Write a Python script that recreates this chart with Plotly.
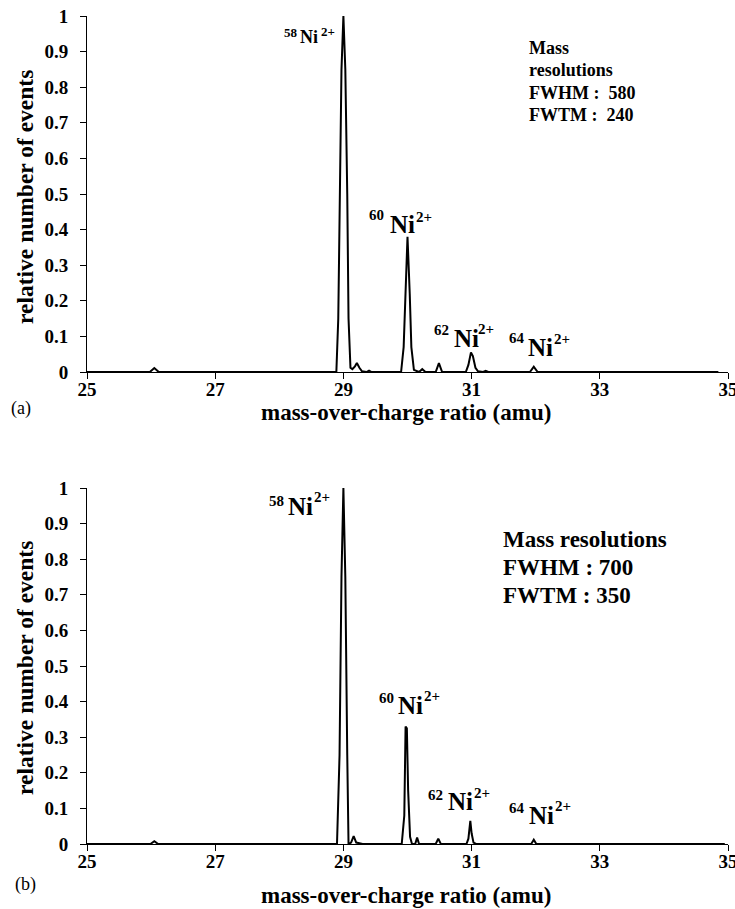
import plotly.graph_objects as go

# ---------------- data ----------------
# (a) spectrum
a_mz = [25.0, 25.6, 25.98, 26.05, 26.12, 26.6, 27.5, 28.5, 28.89, 28.92, 28.94, 28.97,
        29.0, 29.03, 29.06, 29.08, 29.11, 29.14, 29.18, 29.21, 29.25, 29.29, 29.36,
        29.4, 29.44, 29.9, 29.94, 29.965, 30.0, 30.035, 30.06, 30.1, 30.18, 30.23,
        30.28, 30.44, 30.49, 30.54, 30.91, 30.95, 30.99, 31.02, 31.06, 31.1, 31.18,
        31.22, 31.26, 31.91, 31.97, 32.03, 33.0, 34.0, 34.85]
a_int = [0.0, 0.0, 0.0, 0.011, 0.0, 0.0, 0.0, 0.0, 0.0, 0.15, 0.5, 0.85,
         1.0, 0.85, 0.5, 0.15, 0.012, 0.008, 0.016, 0.025, 0.012, 0.002, 0.0,
         0.004, 0.0, 0.0, 0.07, 0.22, 0.38, 0.22, 0.07, 0.006, 0.0, 0.008,
         0.0, 0.0, 0.025, 0.0, 0.0, 0.02, 0.055, 0.045, 0.012, 0.002, 0.0,
         0.003, 0.0, 0.0, 0.015, 0.0, 0.0, 0.0, 0.0]

# (b) spectrum
b_mz = [25.0, 25.6, 25.99, 26.05, 26.11, 26.5, 27.5, 28.5, 28.9, 28.94, 28.97, 29.0,
        29.03, 29.06, 29.08, 29.12, 29.16, 29.2, 29.3, 29.6, 29.91, 29.95, 29.97,
        29.99, 30.01, 30.04, 30.07, 30.12, 30.15, 30.18, 30.44, 30.48, 30.52, 30.92,
        30.95, 30.98, 31.0, 31.03, 31.07, 31.93, 31.97, 32.01, 33.0, 34.0, 34.95]
b_int = [0.0, 0.0, 0.0, 0.008, 0.0, 0.0, 0.0, 0.0, 0.0, 0.25, 0.75, 1.0,
         0.75, 0.25, 0.0, 0.004, 0.022, 0.004, 0.0, 0.0, 0.0, 0.08, 0.33,
         0.325, 0.15, 0.02, 0.0, 0.0, 0.018, 0.0, 0.0, 0.015, 0.0, 0.0,
         0.015, 0.065, 0.03, 0.004, 0.0, 0.0, 0.012, 0.0, 0.0, 0.0, 0.0]

x_ticks = [25, 27, 29, 31, 33, 35]
y_ticks = [0, 0.1, 0.2, 0.3, 0.4, 0.5, 0.6, 0.7, 0.8, 0.9, 1]
y_tick_text = ["0", "0.1", "0.2", "0.3", "0.4", "0.5", "0.6", "0.7", "0.8", "0.9", "1"]

res_a = ["Mass", "resolutions", "FWHM :  580", "FWTM :  240"]
res_b = ["Mass resolutions", "FWHM : 700", "FWTM : 350"]

# ---------------- layout helpers ----------------
W, H = 735, 909
FONT = "Liberation Serif"


def px(x):
    return x / W


def py(y):
    return 1 - y / H


fig = go.Figure()
fig.add_trace(go.Scatter(x=a_mz, y=a_int, mode="lines", line=dict(color="black", width=2),
                         xaxis="x", yaxis="y", showlegend=False, hoverinfo="skip",
                         cliponaxis=False))
fig.add_trace(go.Scatter(x=b_mz, y=b_int, mode="lines", line=dict(color="black", width=2),
                         xaxis="x2", yaxis="y2", showlegend=False, hoverinfo="skip",
                         cliponaxis=False))

axis_common = dict(showgrid=False, zeroline=False, showline=True, linecolor="black",
                   linewidth=1, ticks="outside", ticklen=6, tickcolor="black", tickwidth=1,
                   automargin=False, ticklabeloverflow="allow",
                   tickfont=dict(family=FONT, size=19, color="black", weight="bold"))

xa = dict(axis_common, range=[25, 35], tickvals=x_ticks, domain=[px(87), px(728)],
          ticklabelstandoff=-6)
ya_top = dict(axis_common, range=[0, 1], tickvals=y_ticks, ticktext=y_tick_text,
              domain=[py(372), py(16)], ticklabelstandoff=8)
ya_bot = dict(axis_common, range=[0, 1], tickvals=y_ticks, ticktext=y_tick_text,
              domain=[py(844), py(488)], ticklabelstandoff=8)

fig.update_layout(
    width=W, height=H, autosize=False,
    margin=dict(l=0, r=0, t=0, b=0, autoexpand=False),
    paper_bgcolor="white", plot_bgcolor="white",
    xaxis=dict(xa, anchor="y"),
    yaxis=dict(ya_top, anchor="x"),
    xaxis2=dict(xa, anchor="y2"),
    yaxis2=dict(ya_bot, anchor="x2"),
)

ann = []


def text(s, cx, cy, size, bold=True, xanchor="center", angle=0):
    ann.append(dict(text=s, x=px(cx), y=py(cy), xref="paper", yref="paper",
                    xanchor=xanchor, yanchor="middle", showarrow=False, textangle=angle,
                    font=dict(family=FONT, size=size, color="black",
                              weight="bold" if bold else "normal")))


def ion(mass, x_mass, y_mass, x_ni, y_ni, x_ch, y_ch, s_small, s_big):
    text(mass, x_mass, y_mass, s_small, xanchor="left")
    text("Ni", x_ni, y_ni, s_big, xanchor="left")
    text("2+", x_ch, y_ch, s_small, xanchor="left")


# axis titles
for cy in (197, 668):
    text("relative number of events", 25, cy, 23.5, angle=-90)
text("mass-over-charge ratio (amu)", 406, 412, 23)
text("mass-over-charge ratio (amu)", 406, 895, 23)
text("(a)", 21, 408, 18, bold=False)
text("(b)", 25, 884, 18, bold=False)

# ion labels (a)
ion("58", 282, 32, 298, 37, 319, 31, 13, 18)
ion("60", 367, 215, 388, 224, 414, 217, 15, 25)
ion("62", 432, 330, 452, 338, 476, 329, 15, 25)
ion("64", 507, 338, 526, 347, 552, 339, 15, 25)
# ion labels (b)
ion("58", 267, 501, 286, 506, 312, 497, 15, 25)
ion("60", 377, 698, 396, 705, 422, 696, 15, 25)
ion("62", 426, 795, 446, 801, 472, 793, 15, 25)
ion("64", 507, 808, 527, 815, 553, 806, 15, 25)

# resolution text
for i, s in enumerate(res_a):
    text(s, 527, 48 + 22.4 * i, 18, xanchor="left")
for i, s in enumerate(res_b):
    text(s, 501, 539 + 28 * i, 23, xanchor="left")

fig.update_layout(annotations=ann)
# the page's default body margin would offset the figure; remove it
fig.write_html("out.html",
               config={"displayModeBar": False},
               post_script="document.body.style.margin='0';"
                           "document.documentElement.style.overflow='hidden';")
